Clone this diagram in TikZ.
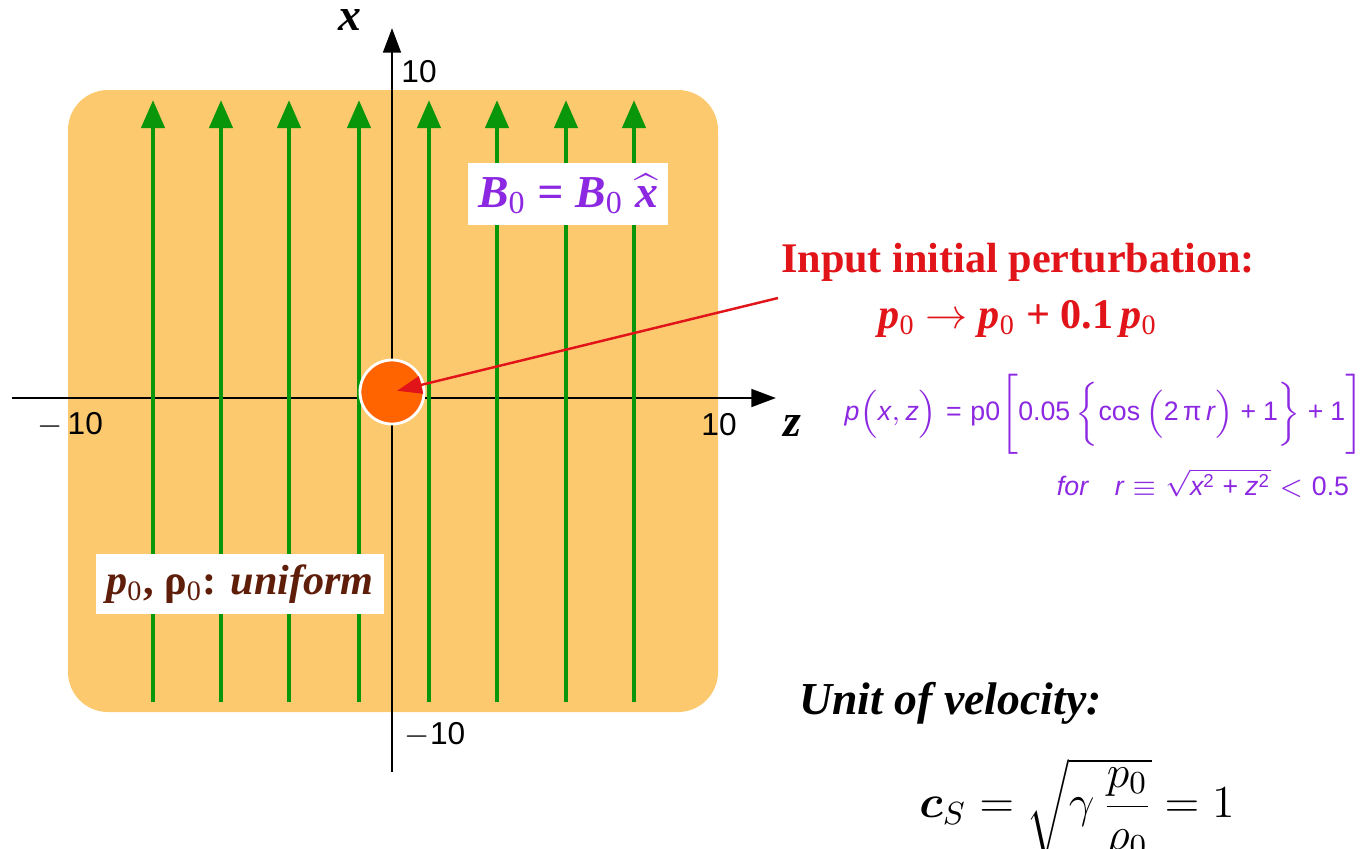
\documentclass[tikz,border=0pt]{standalone}
\usepackage{fix-cm}
\usepackage{amsmath}
\usepackage{fontspec}
\setmainfont{Liberation Serif}
\newfontfamily\ticksfont{Liberation Sans}
\newfontfamily\formfont{Liberation Sans}
\usetikzlibrary{arrows.meta}

\definecolor{plasma}{RGB}{252,201,110}
\definecolor{fieldgreen}{RGB}{10,150,10}
\definecolor{blobred}{RGB}{255,100,0}
\definecolor{pertred}{RGB}{225,20,25}
\definecolor{fieldpurple}{RGB}{140,40,225}
\definecolor{gasbrown}{RGB}{95,30,10}

\newcommand{\fm}[1]{\text{\formfont #1}}

\tikzset{
  axis/.style={line width=0.8pt, -{Triangle[width=5pt,length=7pt]}},
  fieldline/.style={fieldgreen, line width=1.4pt, -{Triangle[width=6.5pt,length=8pt]}},
  pertarrow/.style={pertred, line width=0.7pt, -{Triangle[width=5pt,length=7pt]}},
  ticklabel/.style={font=\ticksfont\fontsize{9}{10}\selectfont, inner sep=1pt},
  whitelabel/.style={fill=white, inner sep=3pt},
}

\begin{document}
\begin{tikzpicture}[x=0.01cm, y=-0.01cm]
    % Units: 1 = 1 pixel of the 1364 x 848 frame, y pointing down. Origin of (z,x) at (392,398).
    \useasboundingbox (0,0) rectangle (1364,848);

    % Plasma region
    \fill[plasma, rounded corners=4mm] (68,90) rectangle (718,712);

    % Axes
    \coordinate (zmin) at (12,398);
    \coordinate (zmax) at (776,398);
    \coordinate (xmin) at (392,772);
    \coordinate (xmax) at (392,28);
    \draw[axis] (zmin) -- (zmax);
    \draw[axis] (xmin) -- (xmax);

    % Field lines of B0 along x
    \foreach \z in {153,221,289,359,429,497,566,634}
        \draw[fieldline] (\z,702) -- (\z,100);

    % Perturbed blob at the origin
    \node[circle, fill=blobred, draw=white, line width=0.8pt, minimum size=6.4mm, inner sep=0pt] (blob) at (392,392) {};

    % Axis labels and ticks
    \node[font=\bfseries\itshape\fontsize{13}{15}\selectfont] (xlab) at (350,20) {x};
    \node[font=\bfseries\itshape\fontsize{13}{15}\selectfont] (zlab) at (792,426) {z};
    \node[ticklabel] (xtop) at (419,72) {10};
    \node[ticklabel] (xbot) at (435,735) {$-$10};
    \node[ticklabel] (zleft) at (70,425) {$-$\,10};
    \node[ticklabel] (zright) at (719,425) {10};

    % Labels in the plasma
    \node[whitelabel, text=fieldpurple, font=\bfseries\itshape\fontsize{13}{15}\selectfont] (bfield) at (568,194)
        {B\textsubscript{\upshape\mdseries 0} = B\textsubscript{\upshape\mdseries 0} $\widehat{\text{\bfseries\itshape x}}$};
    \node[whitelabel, text=gasbrown, font=\bfseries\fontsize{12}{14}\selectfont] (gas) at (240,584)
        {\textit{p}\textsubscript{\mdseries 0}, ρ\textsubscript{\mdseries 0}: \textit{uniform}};

    % Perturbation
    \node[text=pertred, font=\bfseries\fontsize{12}{16}\selectfont, align=center] (pert) at (1018,290)
        {Input initial perturbation:\\ \textit{p}\textsubscript{\mdseries 0} $\rightarrow$ \textit{p}\textsubscript{\mdseries 0} + 0.1\,\textit{p}\textsubscript{\mdseries 0}};
    \coordinate (tail) at (778,298);
    \draw[pertarrow, shorten >=1.5pt] (tail) -- (blob.center);

    \node[text=fieldpurple, font=\fontsize{7.6}{9}\selectfont] (profile) at (1104,414)
        {$\fm{\itshape p}\Big(\fm{\itshape x},\fm{\itshape z}\Big) \mathrel{\fm{=}} \fm{p0}\Bigg[\fm{0.05}\,\bigg\{\fm{cos}\,\Big(\fm{2\,π\,\itshape r}\Big) \mathbin{\fm{+}} \fm{1}\bigg\} \mathbin{\fm{+}} \fm{1}\Bigg]$};
    \node[text=fieldpurple, font=\fontsize{7.6}{9}\selectfont] (range) at (1203,483)
        {$\fm{\itshape for}\quad \fm{\itshape r} \equiv \sqrt{\fm{\itshape x}^{\fm{2}} \mathbin{\fm{+}} \fm{\itshape z}^{\fm{2}}} < \fm{0.5}$};

    % Velocity unit
    \node[anchor=west, font=\bfseries\itshape\fontsize{13}{15}\selectfont] (unit) at (787,703) {Unit of velocity:};
    \node[font=\fontsize{13}{15}\selectfont] (sound) at (1077,810)
        {$\boldsymbol{c}_S = \sqrt{\gamma\,\dfrac{p_0}{\rho_0}} = 1$};
\end{tikzpicture}
\end{document}
